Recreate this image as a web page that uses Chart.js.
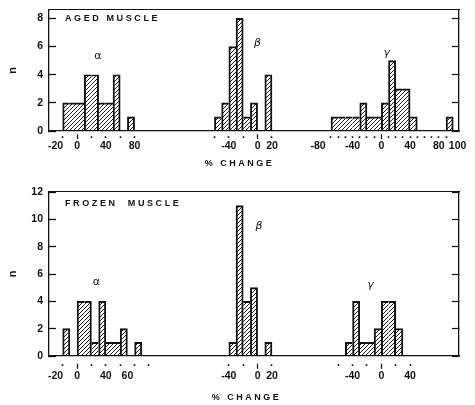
<!DOCTYPE html>
<html><head><meta charset="utf-8">
<script src="https://cdn.jsdelivr.net/npm/chart.js@4/dist/chart.umd.min.js"></script>
<style>
html,body{margin:0;padding:0;background:#fff;}
#wrap{position:relative;width:475px;height:405px;overflow:hidden;}
canvas{position:absolute;left:0;}
#c1{top:0;}
#c2{top:185px;}
</style></head><body>
<div id="wrap"><canvas id="c1" width="475" height="185"></canvas><canvas id="c2" width="475" height="220"></canvas></div>
<script>
// ---------- DATA (counts per 10 % bin, first bin's lower edge in % change) ----------
const binWidth = 10;

// AGED MUSCLE
const agedAlphaStart = -20;
const agedAlpha = [2, 2, 2, 4, 4, 2, 2, 4, 0, 1];
const agedBetaStart = -60;
const agedBeta = [1, 2, 6, 8, 1, 2, 0, 4];
const agedGammaStart = -70;
const agedGamma = [1, 1, 1, 1, 2, 1, 1, 2, 5, 3, 3, 1, 0, 0, 0, 0, 1];

// FROZEN MUSCLE
const frozenAlphaStart = -20;
const frozenAlpha = [2, 0, 4, 4, 1, 4, 1, 1, 2, 0, 1];
const frozenBetaStart = -40;
const frozenBeta = [1, 11, 4, 5, 0, 1];
const frozenGammaStart = -50;
const frozenGamma = [1, 4, 1, 1, 2, 4, 4, 2];

// tick marks (% change) and tick labels [text, anchor value]
const agedAlphaTicks = [-20, 0, 20, 40, 60, 80];
const agedAlphaLabels = [['-20', -30], ['0', 0], ['40', 40], ['80', 80]];
const agedBetaTicks = [-60, -40, -20, 0, 20];
const agedBetaLabels = [['-40', -40], ['0', 0], ['20', 20]];
const agedGammaTicks = [-70, -60, -50, -40, -30, -20, -10, 0, 10, 20, 30, 40, 50, 60, 70, 80, 90];
const agedGammaLabels = [['-80', -88], ['-40', -40], ['0', 0], ['40', 40], ['80', 80], ['100', 106]];

const frozenAlphaTicks = [-20, 0, 20, 40, 60, 80, 100];
const frozenAlphaLabels = [['-20', -30], ['0', 0], ['40', 40], ['60', 70]];
const frozenBetaTicks = [-40, -20, 0, 20];
const frozenBetaLabels = [['-40', -40], ['0', 0], ['20', 20]];
const frozenGammaTicks = [-60, -40, -20, 0, 20, 40];
const frozenGammaLabels = [['-40', -40], ['0', 0], ['40', 40]];

const agedYTicks = [0, 2, 4, 6, 8];
const frozenYTicks = [0, 2, 4, 6, 8, 10, 12];

// ---------- LAYOUT ----------
const axisSpan = 570;                                 // shared x axis units across a panel
const groupZero = {alpha: 39, beta: 290, gamma: 462}; // where each sub-histogram's 0 % sits
const INK = '#111';
Chart.defaults.font.family = '"Liberation Sans", "DejaVu Sans", sans-serif';
Chart.defaults.color = INK;

function makePattern(ctx) {
  const s = 4;
  const c = document.createElement('canvas'); c.width = s; c.height = s;
  const g = c.getContext('2d');
  g.strokeStyle = INK; g.lineWidth = 0.95; g.lineCap = 'square';
  g.beginPath();
  g.moveTo(-1, s + 1); g.lineTo(s + 1, -1);
  g.moveTo(-1, 1); g.lineTo(1, -1);
  g.moveTo(s - 1, s + 1); g.lineTo(s + 1, s - 1);
  g.stroke();
  return ctx.createPattern(c, 'repeat');
}

function histPoints(group, start, counts) {
  return counts.map((c, i) => ({x: groupZero[group] + start + (i + 0.5) * binWidth, y: c}));
}

function buildTickMeta(groups) {
  const list = [];
  for (const g of groups) {
    const z = groupZero[g.name];
    g.ticks.forEach(v => list.push({u: z + v, kind: v === 0 ? 'major' : 'dot', label: ''}));
    g.labels.forEach(([text, v]) => {
      const hit = list.find(t => Math.abs(t.u - (z + v)) < 1e-6);
      if (hit) hit.label = text; else list.push({u: z + v, kind: 'label', label: text});
    });
  }
  list.sort((a, b) => a.u - b.u);
  return list;
}

const annotate = {
  id: 'annotate',
  afterDraw(chart, _a, o) {
    const {ctx, chartArea: ca, scales} = chart;
    ctx.save();
    ctx.fillStyle = INK;
    ctx.textBaseline = 'middle';
    for (const t of o.items) {
      ctx.font = t.font;
      ctx.letterSpacing = t.spacing || '0px';
      ctx.textAlign = t.align || 'center';
      let x, y;
      if (t.group) {
        x = scales.x.getPixelForValue(groupZero[t.group] + t.x);
        y = scales.y.getPixelForValue(t.y);
      } else if (t.u !== undefined) {
        x = scales.x.getPixelForValue(t.u);
        y = ca.bottom + t.dyBottom;
      } else {
        x = ca.left + t.dx;
        y = ca.top + t.dyTop;
      }
      ctx.fillText(t.text, x, y);
    }
    ctx.restore();
  }
};

function edgeWidth(ctx) {
  const d = ctx.dataset.data, i = ctx.dataIndex;
  const h = d[i] ? d[i].y : 0;
  if (!h) return 0;
  const l = i > 0 ? d[i - 1].y : 0;
  const r = i < d.length - 1 ? d[i + 1].y : 0;
  const w = 1.3;
  return {top: w, bottom: 0, left: h > l ? w : 0, right: h > r ? w : 0};
}

function noPad(s) { s.paddingTop = 0; s.paddingBottom = 0; s.paddingLeft = 0; s.paddingRight = 0; }

function makeChart(id, P) {
  const canvas = document.getElementById(id);
  const c2d = canvas.getContext('2d');
  const pattern = makePattern(c2d);
  const meta = buildTickMeta(P.groups);
  const tickFont = {size: 10.5, weight: 'bold'};
  const border = {display: true, color: INK, width: 1.3};
  const datasets = P.groups.map(g => ({
    label: g.name,
    data: histPoints(g.name, g.start, g.counts),
    backgroundColor: pattern,
    borderColor: INK,
    borderWidth: edgeWidth,
    borderSkipped: 'start',
    barPercentage: 1,
    categoryPercentage: 1,
    grouped: false
  }));
  return new Chart(canvas, {
    type: 'bar',
    data: {datasets},
    plugins: [annotate],
    options: {
      responsive: false,
      animation: false,
      devicePixelRatio: 1,
      layout: {padding: 0},
      plugins: {legend: {display: false}, tooltip: {enabled: false}, annotate: {items: P.texts}},
      scales: {
        x: {
          type: 'linear', position: 'bottom', min: 0, max: axisSpan, bounds: 'data', z: 1, offset: false,
          afterBuildTicks: s => { s.ticks = meta.map(t => ({value: t.u})); },
          afterFit: s => { s.height = P.H - P.bottom; noPad(s); },
          ticks: {autoSkip: false, maxRotation: 0, minRotation: 0, padding: 1, color: INK, font: tickFont,
                  callback: (v, i) => (meta[i] ? meta[i].label : '')},
          grid: {
            display: true, offset: false, drawOnChartArea: false, drawTicks: true, tickLength: P.tickLen,
            tickColor: c => (meta[c.index] && meta[c.index].kind !== 'label' ? INK : 'rgba(0,0,0,0)'),
            tickWidth: c => (meta[c.index] && meta[c.index].kind === 'major' ? 1.2 : 1.6),
            tickBorderDash: c => (meta[c.index] && meta[c.index].kind === 'major' ? P.majorDash : P.dotDash)
          },
          border
        },
        x2: {
          type: 'linear', position: 'top', min: 0, max: axisSpan, display: true, offset: false,
          afterFit: s => { s.height = P.top; noPad(s); },
          ticks: {display: false}, grid: {display: false}, border: {display: true, color: INK, width: 1.1}
        },
        y: {
          type: 'linear', position: 'left', min: 0, max: P.yMax, z: 1,
          afterBuildTicks: s => { s.ticks = P.yTicks.map(v => ({value: v})); },
          afterFit: s => { s.width = 49; noPad(s); },
          ticks: {padding: 13, color: INK, font: tickFont, callback: v => String(v)},
          grid: {display: true, drawOnChartArea: false, drawTicks: true, tickLength: -7, tickColor: INK, tickWidth: 1.3},
          border,
          title: {display: true, text: 'n', color: INK, font: {size: 11, weight: 'bold'}, padding: {top: 6, bottom: 0}}
        },
        y2: {
          type: 'linear', position: 'right', min: 0, max: P.yMax, display: true,
          afterBuildTicks: s => { s.ticks = P.yTicks.map(v => ({value: v})); },
          afterFit: s => { s.width = 16; noPad(s); },
          ticks: {display: false},
          grid: {display: true, drawOnChartArea: false, drawTicks: true, tickLength: -7, tickColor: INK, tickWidth: 1.2},
          border
        }
      }
    }
  });
}

const titleFont = 'bold 9px "Liberation Sans", sans-serif';
const greekFont = '11px "DejaVu Sans", sans-serif';
const greekItalic = 'italic 11px "DejaVu Sans", sans-serif';

makeChart('c1', {
  H: 185, top: 10, bottom: 131, yMax: 8.6, yTicks: agedYTicks, tickLen: 8,
  majorDash: [0, 3, 5, 40], dotDash: [0, 5, 1.6, 40],
  groups: [
    {name: 'alpha', start: agedAlphaStart, counts: agedAlpha, ticks: agedAlphaTicks, labels: agedAlphaLabels},
    {name: 'beta', start: agedBetaStart, counts: agedBeta, ticks: agedBetaTicks, labels: agedBetaLabels},
    {name: 'gamma', start: agedGammaStart, counts: agedGamma, ticks: agedGammaTicks, labels: agedGammaLabels}
  ],
  texts: [
    {text: 'AGED MUSCLE', dx: 16, dyTop: 9, font: titleFont, spacing: '2.6px', align: 'left'},
    {text: 'α', group: 'alpha', x: 29, y: 5.35, font: greekFont},
    {text: 'β', group: 'beta', x: 0, y: 6.25, font: greekItalic},
    {text: 'γ', group: 'gamma', x: 7.5, y: 5.5, font: greekItalic},
    {text: '% CHANGE', u: 265, dyBottom: 33, font: titleFont, spacing: '2.5px'}
  ]
});

makeChart('c2', {
  H: 220, top: 7, bottom: 171, yMax: 12, yTicks: frozenYTicks, tickLen: 13,
  majorDash: [0, 7.5, 5, 40], dotDash: [0, 8, 1.6, 40],
  groups: [
    {name: 'alpha', start: frozenAlphaStart, counts: frozenAlpha, ticks: frozenAlphaTicks, labels: frozenAlphaLabels},
    {name: 'beta', start: frozenBetaStart, counts: frozenBeta, ticks: frozenBetaTicks, labels: frozenBetaLabels},
    {name: 'gamma', start: frozenGammaStart, counts: frozenGamma, ticks: frozenGammaTicks, labels: frozenGammaLabels}
  ],
  texts: [
    {text: 'FROZEN  MUSCLE', dx: 16, dyTop: 12, font: titleFont, spacing: '2.6px', align: 'left'},
    {text: 'α', group: 'alpha', x: 27, y: 5.4, font: greekFont},
    {text: 'β', group: 'beta', x: 2, y: 9.5, font: greekItalic},
    {text: 'γ', group: 'gamma', x: -15, y: 5.2, font: greekItalic},
    {text: '% CHANGE', u: 274.6, dyBottom: 42, font: titleFont, spacing: '2.5px'}
  ]
});
</script>
</body></html>
